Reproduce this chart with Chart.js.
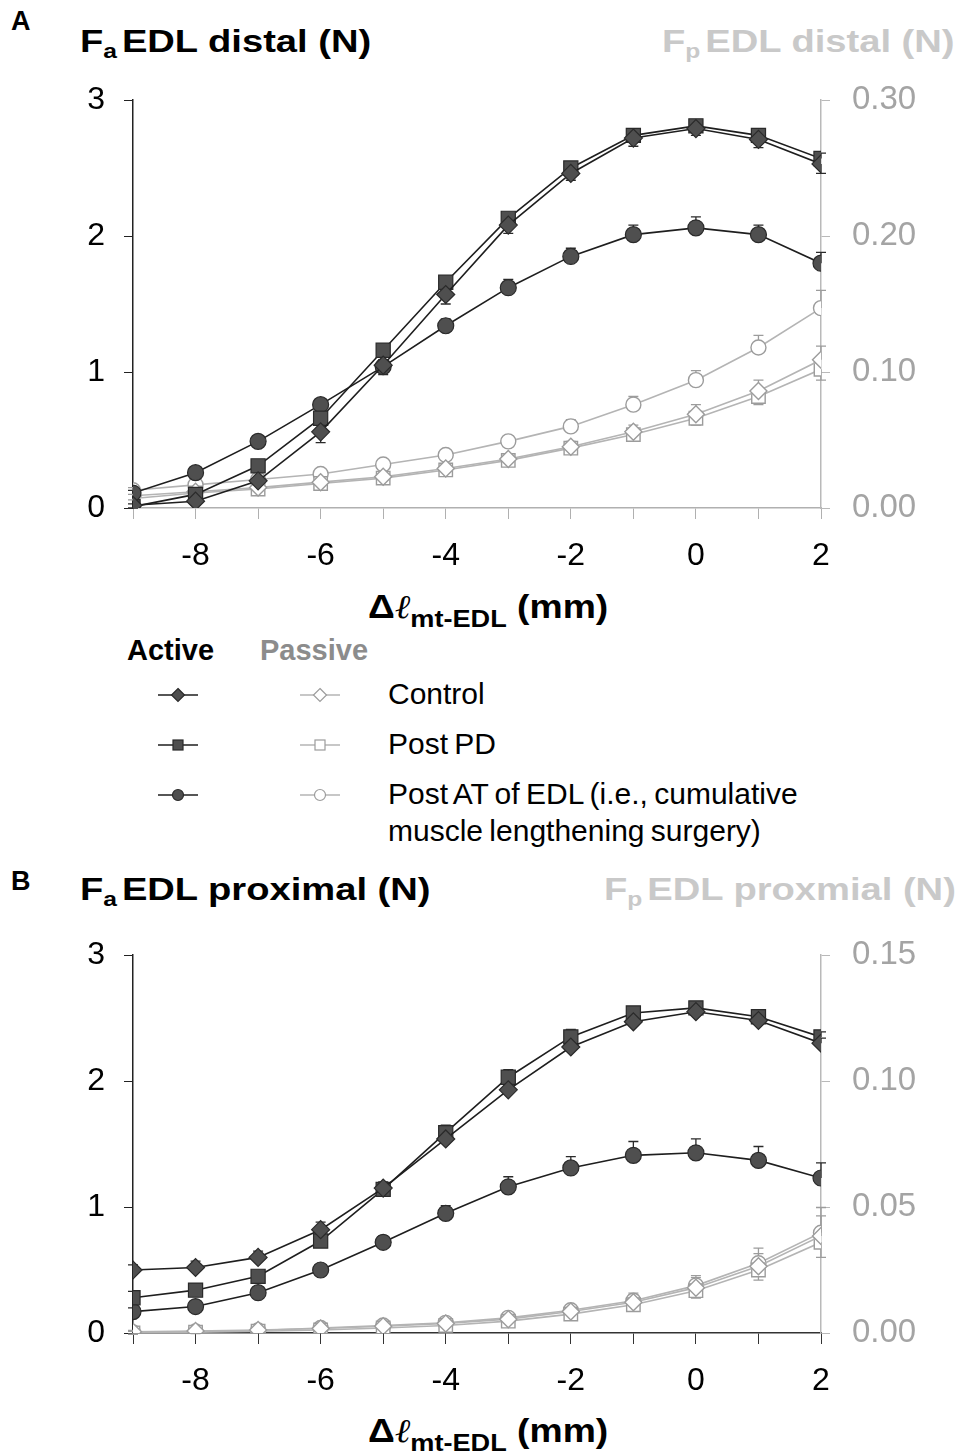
<!DOCTYPE html>
<html>
<head>
<meta charset="utf-8">
<script src="https://cdn.jsdelivr.net/npm/chart.js@4.4.0/dist/chart.umd.min.js"></script>
<style>
  body { margin: 0; background: #fff; font-family: "Liberation Sans", Arial, sans-serif; }
  #page { position: relative; width: 962px; height: 1454px; overflow: hidden; }
  .abs { position: absolute; white-space: nowrap; }
  .panel { font-weight: bold; font-size: 27px; }
  .ttl { font-weight: bold; font-size: 31px; transform-origin: left top; transform: scaleX(1.23); }
  .ttl sub { font-size: 20px; vertical-align: -6px; margin-right: 4px; }
  .xt { font-weight: bold; font-size: 33px; transform-origin: left top; transform: scaleX(1.13); }
  .xt sub { font-size: 24px; vertical-align: -9px; }
  .leg { font-size: 30px; word-spacing: -2px; }
</style>
</head>
<body>
<div id="page">
  <div class="abs panel" style="left:11px;top:6px">A</div>
  <div class="abs ttl" style="left:80px;top:24px">F<sub>a</sub>EDL distal (N)</div>
  <div class="abs ttl" style="left:662px;top:24px;color:#c9c9c9">F<sub>p</sub>EDL distal (N)</div>
  <canvas id="chartA" class="abs" style="left:0;top:0" width="962" height="580"></canvas>
  <div class="abs xt" style="left:368px;top:587px">&Delta;<i style="font-family:'DejaVu Serif';font-weight:normal">&#8467;</i><sub>mt-EDL</sub> (mm)</div>

  <div class="abs" style="left:127px;top:634px;font-weight:bold;font-size:29px">Active</div>
  <div class="abs" style="left:260px;top:634px;font-weight:bold;font-size:29px;color:#8c8c8c">Passive</div>
  <svg class="abs" style="left:156px;top:683px" width="44" height="130" id="legAct"></svg>
  <svg class="abs" style="left:298px;top:683px" width="44" height="130" id="legPas"></svg>
  <div class="abs leg" style="left:388px;top:677px">Control</div>
  <div class="abs leg" style="left:388px;top:727px">Post PD</div>
  <div class="abs leg" style="left:388px;top:777px">Post AT of EDL (i.e., cumulative</div>
  <div class="abs leg" style="left:388px;top:814px">muscle lengthening surgery)</div>

  <div class="abs panel" style="left:11px;top:866px">B</div>
  <div class="abs ttl" style="left:80px;top:872px">F<sub>a</sub>EDL proximal (N)</div>
  <div class="abs ttl" style="left:604px;top:872px;color:#c9c9c9">F<sub>p</sub>EDL proxmial (N)</div>
  <canvas id="chartB" class="abs" style="left:0;top:860px" width="962" height="540"></canvas>
  <div class="abs xt" style="left:368px;top:1411px">&Delta;<i style="font-family:'DejaVu Serif';font-weight:normal">&#8467;</i><sub>mt-EDL</sub> (mm)</div>
</div>

<script>
// muscle-tendon length change (mm)
const lengths = [-9, -8, -7, -6, -5, -4, -3, -2, -1, 0, 1, 2];

// A: EDL distal, active force (N)
const distalActControl = [0.02, 0.05, 0.20, 0.56, 1.05, 1.57, 2.08, 2.46, 2.72, 2.79, 2.71, 2.53];
const distalActPostPD  = [0.01, 0.10, 0.31, 0.66, 1.16, 1.66, 2.13, 2.50, 2.74, 2.81, 2.74, 2.57];
const distalActPostAT  = [0.11, 0.26, 0.49, 0.76, 1.04, 1.34, 1.62, 1.85, 2.01, 2.06, 2.01, 1.80];
const distalActControlErr = [0.02, 0.03, 0.05, 0.08, 0.07, 0.07, 0.06, 0.05, 0.06, 0.05, 0.06, 0.07];
const distalActPostPDErr  = [0.02, 0.02, 0.03, 0.04, 0.04, 0.04, 0.04, 0.04, 0.04, 0.04, 0.04, 0.04];
const distalActPostATErr  = [0.02, 0.02, 0.03, 0.04, 0.05, 0.05, 0.06, 0.06, 0.07, 0.08, 0.07, 0.08];
// A: EDL distal, passive force (N)
const distalPasControl = [0.009, 0.012, 0.015, 0.019, 0.023, 0.029, 0.036, 0.045, 0.056, 0.069, 0.086, 0.109];
const distalPasPostPD  = [0.007, 0.011, 0.014, 0.018, 0.022, 0.028, 0.035, 0.044, 0.054, 0.066, 0.082, 0.102];
const distalPasPostAT  = [0.013, 0.017, 0.021, 0.025, 0.032, 0.039, 0.049, 0.060, 0.076, 0.094, 0.118, 0.147];
const distalPasControlErr = [0.001, 0.001, 0.001, 0.002, 0.002, 0.003, 0.003, 0.004, 0.005, 0.007, 0.008, 0.010];
const distalPasPostPDErr  = [0.001, 0.001, 0.001, 0.002, 0.002, 0.002, 0.003, 0.003, 0.004, 0.005, 0.006, 0.008];
const distalPasPostATErr  = [0.002, 0.002, 0.002, 0.003, 0.003, 0.003, 0.004, 0.005, 0.006, 0.007, 0.009, 0.013];

// B: EDL proximal, active force (N)
const proxActControl = [0.50, 0.52, 0.60, 0.82, 1.15, 1.54, 1.93, 2.27, 2.47, 2.55, 2.48, 2.30];
const proxActPostPD  = [0.28, 0.34, 0.45, 0.73, 1.14, 1.59, 2.03, 2.35, 2.54, 2.58, 2.51, 2.35];
const proxActPostAT  = [0.17, 0.21, 0.32, 0.50, 0.72, 0.95, 1.16, 1.31, 1.41, 1.43, 1.37, 1.23];
const proxActControlErr = [0.04, 0.05, 0.05, 0.06, 0.05, 0.05, 0.05, 0.05, 0.04, 0.04, 0.04, 0.04];
const proxActPostPDErr  = [0.05, 0.04, 0.04, 0.05, 0.05, 0.06, 0.06, 0.06, 0.05, 0.04, 0.04, 0.04];
const proxActPostATErr  = [0.03, 0.03, 0.03, 0.04, 0.05, 0.06, 0.08, 0.09, 0.11, 0.11, 0.11, 0.12];
// B: EDL proximal, passive force (N)
const proxPasControl = [0.0005, 0.0008, 0.0012, 0.0018, 0.0027, 0.0038, 0.0055, 0.0085, 0.0122, 0.0180, 0.0265, 0.0385];
const proxPasPostPD  = [0.0000, 0.0003, 0.0007, 0.0012, 0.0020, 0.0030, 0.0047, 0.0075, 0.0112, 0.0168, 0.0250, 0.0360];
const proxPasPostAT  = [0.0002, 0.0006, 0.0010, 0.0020, 0.0030, 0.0040, 0.0060, 0.0090, 0.0128, 0.0188, 0.0277, 0.0398];
const proxPasControlErr = [0.0005, 0.0005, 0.0005, 0.0008, 0.001, 0.001, 0.0015, 0.002, 0.003, 0.004, 0.005, 0.008];
const proxPasPostPDErr  = [0.0005, 0.0005, 0.0005, 0.0008, 0.001, 0.001, 0.0015, 0.002, 0.002, 0.003, 0.004, 0.006];
const proxPasPostATErr  = [0.0005, 0.0005, 0.0005, 0.0008, 0.001, 0.001, 0.0015, 0.002, 0.003, 0.004, 0.006, 0.010];

const xTickLabels = ['-8', '-6', '-4', '-2', '0', '2'];

const ACT_LINE = '#1e1e1e', ACT_FILL = '#4f4f4f';
const PAS_LINE = '#b4b4b4', PAS_EDGE = '#9c9c9c';
const FONT = "'Liberation Sans', Arial, sans-serif";
// marker radius per shape (rect needs a bigger radius for the same visual size)
const R = { rectRot: 9, rect: 10, circle: 8 };
const RP = { rectRot: 8.5, rect: 9.5, circle: 7.5 };

function pts(vals) {
  return lengths.map((x, i) => ({ x: x, y: vals[i] }));
}

function activeSet(vals, err, dir, style) {
  return {
    data: pts(vals), err: err, errDir: dir, yAxisID: 'yA',
    borderColor: ACT_LINE, borderWidth: 1.6,
    pointStyle: style, pointRadius: R[style], pointBackgroundColor: ACT_FILL,
    pointBorderColor: '#2a2a2a', pointBorderWidth: 1.2, tension: 0,
  };
}
function passiveSet(vals, err, dir, style) {
  return {
    data: pts(vals), err: err, errDir: dir, yAxisID: 'yP',
    borderColor: PAS_LINE, borderWidth: 1.6,
    pointStyle: style, pointRadius: RP[style], pointBackgroundColor: '#ffffff',
    pointBorderColor: PAS_EDGE, pointBorderWidth: 1.4, tension: 0,
  };
}

// error bars, one-sided, drawn under the markers
const errorBars = {
  id: 'errorBars',
  beforeDatasetsDraw(chart) {
    const ctx = chart.ctx;
    chart.data.datasets.forEach((ds, i) => {
      if (!ds.err) return;
      const meta = chart.getDatasetMeta(i);
      const ys = chart.scales[ds.yAxisID];
      ctx.save();
      ctx.strokeStyle = ds.yAxisID === 'yA' ? '#2a2a2a' : PAS_EDGE;
      ctx.lineWidth = 1.3;
      meta.data.forEach((p, j) => {
        const y2 = ys.getPixelForValue(ds.data[j].y + ds.errDir * ds.err[j]);
        ctx.beginPath();
        ctx.moveTo(p.x, p.y); ctx.lineTo(p.x, y2);
        ctx.moveTo(p.x - 5, y2); ctx.lineTo(p.x + 5, y2);
        ctx.stroke();
      });
      ctx.restore();
    });
  }
};

function makeChart(id, sets, topPad, xAxisH, xAxisColor, pMax, pStep) {
  const ctx = document.getElementById(id).getContext('2d');
  return new Chart(ctx, {
    type: 'line',
    data: { datasets: sets },
    plugins: [errorBars],
    options: {
      responsive: false, animation: false, devicePixelRatio: 1,
      layout: { padding: { top: topPad, left: 0, right: 0, bottom: 0 } },
      plugins: { legend: { display: false }, tooltip: { enabled: false } },
      scales: {
        x: {
          type: 'linear', min: -9, max: 2,
          afterFit: s => { s.height = xAxisH; },
          border: { color: xAxisColor, width: 1.5 },
          grid: { drawOnChartArea: false, tickLength: 11, color: xAxisColor, tickColor: xAxisColor },
          ticks: {
            stepSize: 1, autoSkip: false, padding: 18, color: '#000',
            font: { family: FONT, size: 32 },
            callback: v => xTickLabels.includes(String(v)) ? String(v) : ''
          }
        },
        yA: {
          position: 'left', min: 0, max: 3,
          afterFit: s => { s.width = 133; },
          border: { color: '#222', width: 1.5 },
          grid: { drawOnChartArea: false, tickLength: 9, color: '#222', tickColor: '#222' },
          ticks: { stepSize: 1, padding: 19, color: '#000', font: { family: FONT, size: 32 } }
        },
        yP: {
          position: 'right', min: 0, max: pMax,
          afterFit: s => { s.width = 141; },
          border: { color: '#b9b9b9', width: 1.5 },
          grid: { drawOnChartArea: false, tickLength: 9, color: '#b9b9b9', tickColor: '#b9b9b9' },
          ticks: { stepSize: pStep, padding: 22, color: '#a4a4a4', font: { family: FONT, size: 33 },
                   callback: v => v.toFixed(2) }
        }
      }
    }
  });
}

makeChart('chartA', [
  activeSet(distalActControl, distalActControlErr, -1, 'rectRot'),
  activeSet(distalActPostPD, distalActPostPDErr, 1, 'rect'),
  activeSet(distalActPostAT, distalActPostATErr, 1, 'circle'),
  passiveSet(distalPasControl, distalPasControlErr, 1, 'rectRot'),
  passiveSet(distalPasPostPD, distalPasPostPDErr, -1, 'rect'),
  passiveSet(distalPasPostAT, distalPasPostATErr, 1, 'circle'),
], 100, 72, '#b0b0b0', 0.30, 0.10);

makeChart('chartB', [
  activeSet(proxActControl, proxActControlErr, 1, 'rectRot'),
  activeSet(proxActPostPD, proxActPostPDErr, 1, 'rect'),
  activeSet(proxActPostAT, proxActPostATErr, 1, 'circle'),
  passiveSet(proxPasControl, proxPasControlErr, 1, 'rectRot'),
  passiveSet(proxPasPostPD, proxPasPostPDErr, -1, 'rect'),
  passiveSet(proxPasPostAT, proxPasPostATErr, 1, 'circle'),
], 95, 67, '#333333', 0.15, 0.05);

// legend symbols
function legendSymbols(svgId, line, fill, edge) {
  const svg = document.getElementById(svgId);
  const ns = 'http://www.w3.org/2000/svg';
  const shapes = ['diamond', 'square', 'circle'];
  shapes.forEach((s, i) => {
    const cy = 12 + i * 50;
    const l = document.createElementNS(ns, 'line');
    l.setAttribute('x1', 2); l.setAttribute('x2', 42); l.setAttribute('y1', cy); l.setAttribute('y2', cy);
    l.setAttribute('stroke', line); l.setAttribute('stroke-width', 1.6);
    svg.appendChild(l);
    let m;
    if (s === 'circle') {
      m = document.createElementNS(ns, 'circle');
      m.setAttribute('cx', 22); m.setAttribute('cy', cy); m.setAttribute('r', 5.5);
    } else if (s === 'square') {
      m = document.createElementNS(ns, 'rect');
      m.setAttribute('x', 17); m.setAttribute('y', cy - 5); m.setAttribute('width', 10); m.setAttribute('height', 10);
    } else {
      m = document.createElementNS(ns, 'polygon');
      m.setAttribute('points', `22,${cy - 6.5} 28.5,${cy} 22,${cy + 6.5} 15.5,${cy}`);
    }
    m.setAttribute('fill', fill); m.setAttribute('stroke', edge); m.setAttribute('stroke-width', 1.2);
    svg.appendChild(m);
  });
}
legendSymbols('legAct', ACT_LINE, ACT_FILL, '#2a2a2a');
legendSymbols('legPas', PAS_LINE, '#ffffff', PAS_EDGE);
</script>
</body>
</html>
